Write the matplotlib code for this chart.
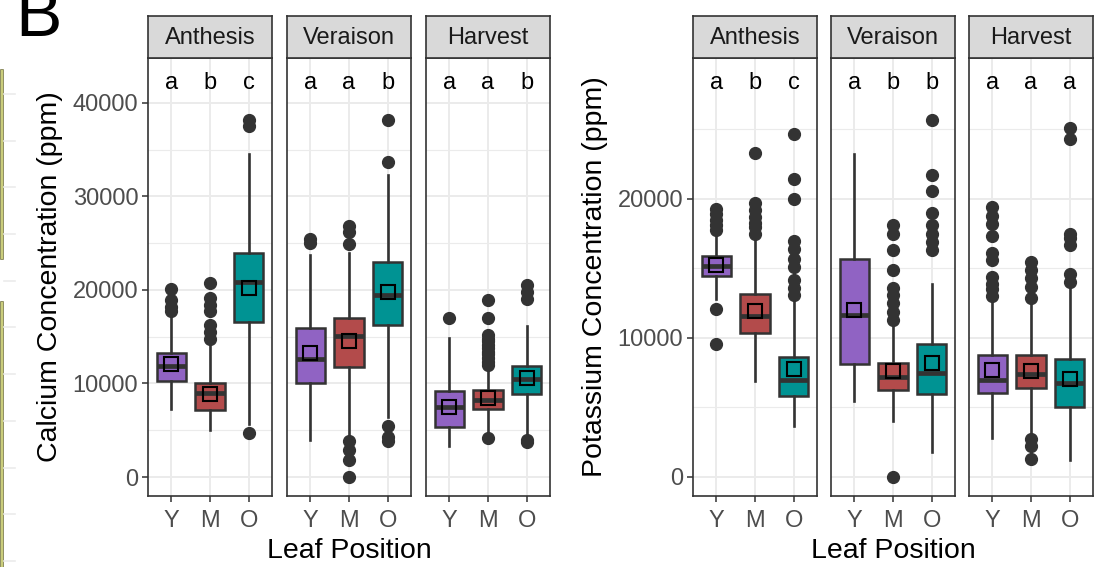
import numpy as np
import matplotlib
matplotlib.use('Agg')
import matplotlib.pyplot as plt
from matplotlib.lines import Line2D

plt.rcParams['font.family'] = ['Liberation Sans', 'DejaVu Sans']

stages = ['Anthesis', 'Veraison', 'Harvest']
positions = ['Y', 'M', 'O']
box_colors = ['#9063C3', '#B34B4B', '#009393']

# Calcium (ppm): per stage, per leaf position Y, M, O
ca_letters = [['a', 'b', 'c'], ['a', 'a', 'b'], ['a', 'a', 'b']]
ca_whislo = [[7300, 5000, 5700], [4000, 4300, 6400], [3300, 4900, 4700]]
ca_q1 = [[10300, 7200, 16600], [10000, 11800, 16300], [5400, 7300, 8850]]
ca_med = [[11900, 9000, 20800], [12600, 15100, 19500], [7450, 8250, 10450]]
ca_q3 = [[13300, 10100, 24000], [15900, 17000, 23000], [9200, 9250, 11900]]
ca_whishi = [[17100, 14300, 34500], [23700, 24000, 32300], [14900, 11600, 16100]]
ca_mean = [[12100, 8850, 20200], [13300, 14500, 19800], [7500, 8400, 10550]]
ca_fliers = [
    [[17700, 18200, 18900, 20100],
     [14800, 15500, 16300, 17700, 18400, 19100, 20700],
     [4700, 37500, 38200]],
    [[25000, 25400],
     [0, 1800, 2900, 3900, 24900, 26200, 26800],
     [3800, 4300, 5500, 33700, 38200]],
    [[17000],
     [4200, 12000, 12300, 12700, 13100, 13400, 13800, 14100, 14500, 14800, 15200, 17000, 18900],
     [3700, 4000, 19000, 19800, 20500]],
]

# Potassium (ppm)
k_letters = [['a', 'b', 'c'], ['a', 'b', 'b'], ['a', 'a', 'a']]
k_whislo = [[12800, 6900, 3700], [5500, 4000, 1800], [2800, 3100, 1200]]
k_q1 = [[14450, 10350, 5800], [8100, 6250, 6000], [6050, 6400, 5050]]
k_med = [[15200, 11600, 7000], [11650, 7200, 7500], [7000, 7400, 6750]]
k_q3 = [[15900, 13150, 8650], [15650, 8200, 9600], [8800, 8800, 8450]]
k_whishi = [[17500, 17000, 12700], [23200, 10800, 13900], [12600, 12500, 13500]]
k_mean = [[15250, 11950, 7750], [12000, 7600, 8200], [7700, 7650, 7050]]
k_fliers = [
    [[9600, 12100, 17800, 18100, 18500, 18900, 19300],
     [17500, 18000, 18300, 18700, 19200, 19700, 23300],
     [13100, 13600, 14200, 15100, 15700, 16400, 17000, 20000, 21400, 24700]],
    [[],
     [0, 11300, 11900, 12500, 13100, 13600, 14900, 16300, 17500, 18100],
     [16300, 16900, 17500, 18100, 19000, 20600, 21700, 25700]],
    [[13000, 13500, 13900, 14400, 15600, 16100, 17300, 18200, 18800, 19400],
     [1300, 2200, 2700, 12900, 13700, 14300, 14900, 15500],
     [14000, 14600, 16700, 17200, 17500, 24300, 25100]],
]

W, H = 1094, 567
fig = plt.figure(figsize=(W / 100, H / 100), dpi=100)

dark = '#333333'
grid_col = '#EBEBEB'


def px_box(x0, y0, w, h):
    # pixel box (top-left origin) -> figure fraction rect
    return [x0 / W, 1 - (y0 + h) / H, w / W, h / H]


def draw_group(lefts, ylabel, ylim, yticks, yminor, letter_y,
               whislo, q1, med, q3, whishi, mean, fliers, letters, label_x):
    panel_w = 124
    top, bottom = 58, 496
    for i, stage in enumerate(stages):
        ax = fig.add_axes(px_box(lefts[i], top, panel_w, bottom - top))
        stats = []
        for j, pos in enumerate(positions):
            stats.append(dict(med=med[i][j], q1=q1[i][j], q3=q3[i][j],
                              whislo=whislo[i][j], whishi=whishi[i][j],
                              mean=mean[i][j], fliers=np.array(fliers[i][j]),
                              label=pos))
        bp = ax.bxp(stats, positions=[1, 2, 3], widths=0.75, patch_artist=True,
                    showmeans=True, showcaps=False,
                    boxprops=dict(edgecolor=dark, linewidth=1.8),
                    medianprops=dict(color=dark, linewidth=3.4, solid_capstyle='butt'),
                    whiskerprops=dict(color=dark, linewidth=1.9),
                    flierprops=dict(marker='o', markerfacecolor=dark,
                                    markeredgecolor=dark, markersize=8.5),
                    meanprops=dict(marker='s', markerfacecolor='none',
                                   markeredgecolor='black', markersize=9.5,
                                   markeredgewidth=1.5))
        for patch, col in zip(bp['boxes'], box_colors):
            patch.set_facecolor(col)
        for j in range(3):
            ax.text(j + 1, letter_y, letters[i][j], ha='center', va='center',
                    fontsize=17, color='black')

        ax.set_xlim(0.4, 3.6)
        ax.set_ylim(*ylim)
        ax.set_xticks([1, 2, 3])
        ax.set_xticklabels(positions)
        ax.set_yticks(yticks)
        ax.set_yticks(yminor, minor=True)
        ax.grid(True, which='major', color=grid_col, linewidth=1.4)
        ax.grid(True, which='minor', axis='y', color=grid_col, linewidth=0.8)
        ax.set_axisbelow(True)
        ax.tick_params(axis='both', which='major', length=4, width=1.1, color=dark,
                       labelsize=17, labelcolor='#4D4D4D', pad=3)
        ax.tick_params(axis='x', which='major', pad=6)
        ax.tick_params(axis='y', which='minor', length=0)
        for s in ax.spines.values():
            s.set_color(dark)
            s.set_linewidth(1.2)
        if i == 0:
            ax.set_yticklabels([str(t) for t in yticks])
            ax.set_ylabel(ylabel, fontsize=20.5, labelpad=7)
        else:
            ax.tick_params(axis='y', which='major', length=0, labelleft=False)

        # facet strip
        sax = fig.add_axes(px_box(lefts[i], 16, panel_w, 42))
        sax.set_facecolor('#D9D9D9')
        sax.set_xticks([])
        sax.set_yticks([])
        for s in sax.spines.values():
            s.set_color(dark)
            s.set_linewidth(1.2)
        sax.text(0.5, 0.48, stage, ha='center', va='center', fontsize=17,
                 color='#1A1A1A', transform=sax.transAxes)

    fig.text(label_x / W, 1 - 551 / H, 'Leaf Position', ha='center', va='center',
             fontsize=20.5)


draw_group([148, 287, 426], 'Calcium Concentration (ppm)', (-2030, 44800),
           [0, 10000, 20000, 30000, 40000], [5000, 15000, 25000, 35000], 42100,
           ca_whislo, ca_q1, ca_med, ca_q3, ca_whishi, ca_mean, ca_fliers,
           ca_letters, 349)

draw_group([693, 831, 969], 'Potassium Concentration (ppm)', (-1370, 30140),
           [0, 10000, 20000], [5000, 15000, 25000], 28350,
           k_whislo, k_q1, k_med, k_q3, k_whishi, k_mean, k_fliers,
           k_letters, 893)

# panel tag, partly above the top edge
fig.text(15 / W, 1 - 36 / H, 'B', ha='left', va='baseline', fontsize=50)

# edge of the neighbouring panel
for y0, y1 in [(71, 258), (303, 567)]:
    fig.add_artist(Line2D([1.5 / W, 1.5 / W], [1 - y0 / H, 1 - y1 / H],
                          color='#77773F', linewidth=2.6))
    fig.add_artist(Line2D([1.5 / W, 1.5 / W], [1 - y0 / H, 1 - y1 / H],
                          color='#CDD07E', linewidth=1.4))
for gy in np.arange(94, 567, 46.7):
    fig.add_artist(Line2D([4 / W, 15 / W], [1 - gy / H, 1 - gy / H],
                          color=grid_col, linewidth=1.2))

fig.savefig('out.png', dpi=100)
